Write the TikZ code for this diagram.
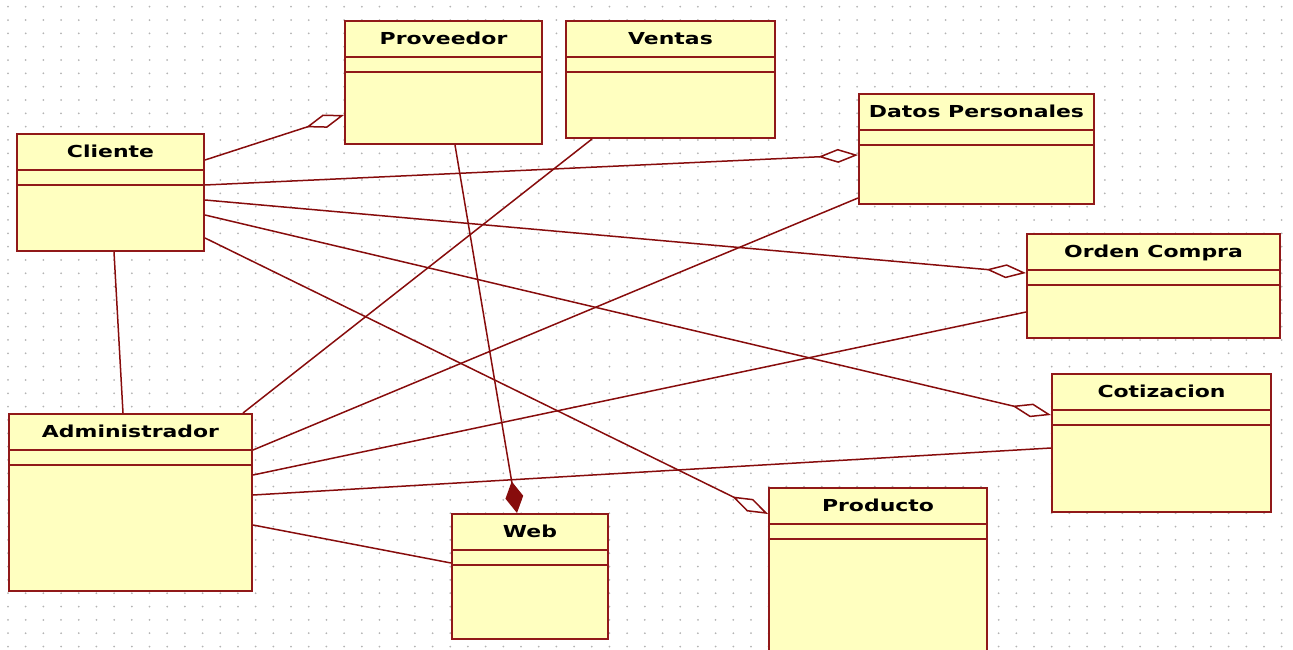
\documentclass[tikz,border=0pt]{standalone}
\usepackage{fontspec}
\usepackage{xcolor}
\usetikzlibrary{arrows.meta}
\newfontfamily\clasefont[FakeStretch=1.33]{DejaVu Sans}
\definecolor{borde}{RGB}{145,25,25}
\definecolor{fondo}{RGB}{255,255,192}
\definecolor{linea}{RGB}{135,12,12}
\definecolor{punto}{RGB}{180,180,180}
\tikzstyle{clase} = [rectangle, draw=borde, fill=fondo, line width=2pt, anchor=north west, inner sep=0pt]
\tikzstyle{titulo} = [anchor=base, inner sep=0pt, font={\clasefont\bfseries\fontsize{16.5}{20}\selectfont}]
\tikzstyle{assoc} = [draw=linea, line width=1.5pt]
\tikzstyle{agrega} = [assoc, -{Diamond[fill=white, length=40pt, width=14pt]}]
\tikzstyle{compone} = [assoc, -{Diamond[length=32pt, width=18pt]}]

\begin{document}
\begin{tikzpicture}[x=1pt,y=-1pt]
  \useasboundingbox (0,0) rectangle (1293,650);
  \clip (0,0) rectangle (1293,650);
  % dotted grid
  \foreach \i in {0,...,72}
    \foreach \j in {0,...,48}
      \fill[punto] (8+17.69*\i,6.7+13.33*\j) circle (1pt);

  \node[clase, minimum width=197pt, minimum height=123pt] (prov) at (344,20) {};
  \node[clase, minimum width=209pt, minimum height=117pt] (vent) at (565,20) {};
  \node[clase, minimum width=235pt, minimum height=110pt] (datos) at (858,93) {};
  \node[clase, minimum width=187pt, minimum height=117pt] (cli) at (16,133) {};
  \node[clase, minimum width=253pt, minimum height=104pt] (orden) at (1026,233) {};
  \node[clase, minimum width=219pt, minimum height=138pt] (coti) at (1051,373) {};
  \node[clase, minimum width=243pt, minimum height=177pt] (admin) at (8,413) {};
  \node[clase, minimum width=156pt, minimum height=125pt] (web) at (451,513) {};
  \node[clase, minimum width=218pt, minimum height=175pt] (prod) at (768,487) {};

  \foreach \c in {prov,vent,datos,cli,orden,coti,admin,web,prod} {
    \draw[borde, line width=2pt] ([yshift=-37pt]\c.north west) -- ([yshift=-37pt]\c.north east);
    \draw[borde, line width=2pt] ([yshift=-52pt]\c.north west) -- ([yshift=-52pt]\c.north east);
  }

  \node[titulo] at ([yshift=-24.5pt]prov.north) {Proveedor};
  \node[titulo] at ([yshift=-24.5pt]vent.north) {Ventas};
  \node[titulo] at ([yshift=-24.5pt]datos.north) {Datos Personales};
  \node[titulo] at ([yshift=-24.5pt]cli.north) {Cliente};
  \node[titulo] at ([yshift=-24.5pt]orden.north) {Orden Compra};
  \node[titulo] at ([yshift=-24.5pt]coti.north) {Cotizacion};
  \node[titulo] at ([yshift=-24.5pt]admin.north) {Administrador};
  \node[titulo] at ([yshift=-24.5pt]web.north) {Web};
  \node[titulo] at ([yshift=-24.5pt]prod.north) {Producto};

  % Cliente
  \draw[agrega] ([yshift=-27pt]cli.north east) -- ([yshift=-95pt]prov.north west);
  \draw[agrega] ([yshift=-52pt]cli.north east) -- ([yshift=-62pt]datos.north west);
  \draw[agrega] ([yshift=-67pt]cli.north east) -- ([yshift=-40pt]orden.north west);
  \draw[agrega] ([yshift=-82pt]cli.north east) -- ([yshift=-42pt]coti.north west);
  \draw[agrega] ([yshift=-105pt]cli.north east) -- ([yshift=-27pt]prod.north west);
  \draw[assoc] ([xshift=98pt]cli.south west) -- ([xshift=115pt]admin.north west);

  % Administrador
  \draw[assoc] ([xshift=27pt]vent.south west) -- ([xshift=235pt]admin.north west);
  \draw[assoc] ([yshift=-105pt]datos.north west) -- ([yshift=-37pt]admin.north east);
  \draw[assoc] ([yshift=-79pt]orden.north west) -- ([yshift=-62pt]admin.north east);
  \draw[assoc] ([yshift=-75pt]coti.north west) -- ([yshift=-82pt]admin.north east);
  \draw[assoc] ([yshift=-112pt]admin.north east) -- ([yshift=-50pt]web.north west);

  \draw[compone] ([xshift=111pt]prov.south west) -- ([xshift=66pt]web.north west);
\end{tikzpicture}
\end{document}
